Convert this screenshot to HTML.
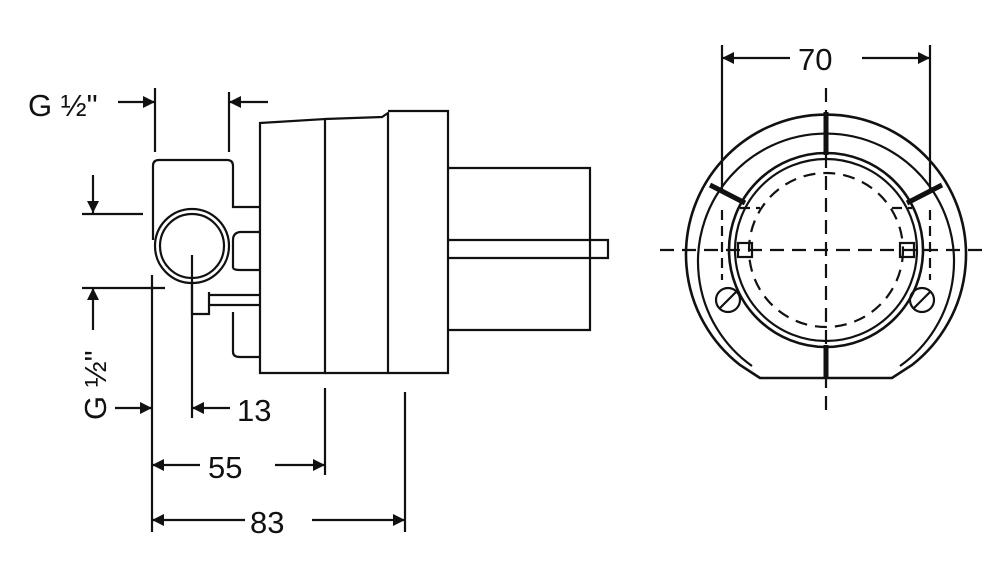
<!DOCTYPE html>
<html><head><style>body{margin:0;background:#fff}svg{display:block}</style></head><body>
<svg width="1000" height="583" viewBox="0 0 1000 583" xmlns="http://www.w3.org/2000/svg" font-family="Liberation Sans, sans-serif">
<defs>
<marker id="a" viewBox="0 0 10 10" refX="10" refY="5" markerWidth="18" markerHeight="12" markerUnits="userSpaceOnUse" orient="auto"><path d="M0,0L10,5L0,10z" fill="#111"/></marker>
</defs>
<g stroke="#111" stroke-width="2.2" fill="none">
<!-- top dims -->
<line x1="155" y1="88" x2="155" y2="152"/>
<line x1="229" y1="92" x2="229" y2="152"/>
<line x1="118" y1="102" x2="155" y2="102" marker-end="url(#a)"/>
<line x1="268" y1="102" x2="229" y2="102" marker-end="url(#a)"/>
<!-- valve body -->
<path d="M153,240 V166 Q153,160 159,160 H227 Q233,160 233,166 V207 H260"/>
<path d="M233,268 V240 Q233,233 240,232 H260 M233,268 Q234,270 240,270 H260"/>
<circle cx="192" cy="246" r="37"/>
<circle cx="192" cy="246" r="32"/>
<path d="M192,282 V314 H209 V292"/>
<path d="M210,295 H260 M210,305 H260"/>
<path d="M233,312 V352 Q233,357 240,357 H260"/>
<!-- main blocks -->
<path d="M260,123 L325,119 V373 H260 Z"/>
<path d="M325,119 L382,117 L388,113 V373 H325"/>
<path d="M388,111 H448 V373 H388"/>
<path d="M448,168 H590 V330 H448"/>
<path d="M448,240 H608 V258 H448"/>
<!-- ext lines -->
<line x1="192" y1="255" x2="192" y2="418"/>
<line x1="152" y1="275" x2="152" y2="532"/>
<line x1="325" y1="388" x2="325" y2="475"/>
<line x1="405" y1="392" x2="405" y2="532"/>
<!-- left dims -->
<line x1="93" y1="175" x2="93" y2="213" marker-end="url(#a)"/>
<line x1="82" y1="214" x2="143" y2="214"/>
<line x1="93" y1="330" x2="93" y2="288" marker-end="url(#a)"/>
<line x1="82" y1="288" x2="165" y2="288"/>
<line x1="115" y1="408" x2="152" y2="408" marker-end="url(#a)"/>
<line x1="230" y1="408" x2="192" y2="408" marker-end="url(#a)"/>
<line x1="200" y1="465" x2="152" y2="465" marker-end="url(#a)"/>
<line x1="275" y1="465" x2="325" y2="465" marker-end="url(#a)"/>
<line x1="245" y1="520" x2="152" y2="520" marker-end="url(#a)"/>
<line x1="312" y1="520" x2="405" y2="520" marker-end="url(#a)"/>
<!-- right view -->
<line x1="722" y1="45" x2="722" y2="190"/>
<line x1="930" y1="45" x2="930" y2="190"/>
<line x1="790" y1="58" x2="722" y2="58" marker-end="url(#a)"/>
<line x1="862" y1="58" x2="930" y2="58" marker-end="url(#a)"/>
<path d="M760,378 L740,365 A140,140 0 1 1 912,365 L892,378 Z" stroke-width="2.6"/>
<path d="M752,366 A128,128 0 1 1 900,366"/>
<circle cx="826" cy="250" r="97" stroke-width="2.6"/>
<circle cx="826" cy="250" r="91"/>
<circle cx="826" cy="250" r="77" stroke-dasharray="12,8"/>
<path d="M722,210 V280 M930,210 V280 M740,208 H760 M892,208 H912" stroke-dasharray="10,6"/>
<path d="M660,250 H990" stroke-dasharray="14,8"/>
<path d="M826,88 V415" stroke-dasharray="14,8"/>
<rect x="738" y="243" width="14" height="14"/>
<rect x="900" y="243" width="14" height="14"/>
<circle cx="728" cy="300" r="12"/>
<circle cx="922" cy="300" r="12"/>
<path d="M720,308 L736,292 M914,308 L930,292"/>
</g>
<g stroke="#111" stroke-width="5" fill="none">
<line x1="826" y1="112" x2="826" y2="155"/>
<line x1="826" y1="345" x2="826" y2="378"/>
<line x1="710" y1="185" x2="745" y2="203"/>
<line x1="942" y1="185" x2="907" y2="203"/>
</g>
<g fill="#111" font-size="31">
<text x="28" y="116">G ½"</text>
<text x="237" y="421">13</text>
<text x="208" y="478">55</text>
<text x="250" y="533">83</text>
<text x="798" y="70">70</text>
<text transform="translate(106,420) rotate(-90)">G ½"</text>
</g>
</svg>
</body></html>
